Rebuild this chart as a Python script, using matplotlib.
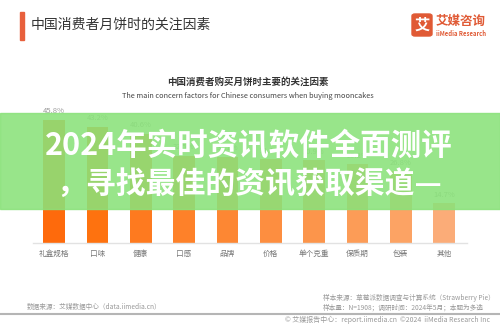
import matplotlib.pyplot as plt
from matplotlib.patches import Rectangle, FancyBboxPatch

plt.rcParams['font.family'] = ['Noto Sans CJK SC', 'DejaVu Sans']

categories = ['礼盒规格', '口味', '健康', '口感', '品牌', '价格', '单个克重', '保质期', '包装', '其他']
values = [45.8, 43.2, 40.6, 32.5, 32.1, 31.1, 30.9, 29.2, 26.8, 14.7]
colors = ['#fe6a0c', '#fe720f', '#fe7a1f', '#fe8129', '#fd8733',
          '#fd8e40', '#fc954b', '#fc9c57', '#fca364', '#fbac78']

W, H = 500, 325
fig = plt.figure(figsize=(5, 3.25), dpi=100)
fig.patch.set_facecolor('white')


def fx(px):
    return px / W


def fy(py):
    return 1 - py / H


# bar chart
ax = fig.add_axes([fx(33), fy(243), fx(467 - 33), 134.5 / H])
x = list(range(len(categories)))
ax.bar(x, values, width=0.5, color=colors, zorder=2)
for xi, v in zip(x, values):
    ax.text(xi, v + 1.6, f'{v}%', ha='center', va='bottom', fontsize=5.5, color='#9a9a9a')
ax.set_xlim(-0.485, 9.53)
ax.set_ylim(0, 50)
ax.set_yticks([])
ax.set_xticks(x)
ax.set_xticklabels(categories, fontsize=5.5, color='#777777')
ax.tick_params(axis='x', length=0, pad=5)
for s in ['top', 'right', 'left']:
    ax.spines[s].set_visible(False)
ax.spines['bottom'].set_color('#e2e2e2')
ax.spines['bottom'].set_linewidth(1)
ax.set_facecolor('none')

# header
fig.patches.append(Rectangle((fx(20), fy(40)), fx(4), (40 - 12) / H,
                             transform=fig.transFigure, color='#e8603c', zorder=3))
fig.text(fx(31), fy(25), '中国消费者月饼时的关注因素', fontsize=10, color='#333333',
         va='center', ha='left')
fig.patches.append(FancyBboxPatch((fx(412), fy(36)), fx(20), 22 / H,
                                  boxstyle='round,pad=0,rounding_size=0.006',
                                  transform=fig.transFigure, color='#e05a35', zorder=3))
fig.text(fx(422), fy(25), '艾', fontsize=11, color='white', fontweight='bold',
         ha='center', va='center')
fig.text(fx(436), fy(21), '艾媒咨询', fontsize=9, color='#e05a35', fontweight='bold',
         ha='left', va='center')
fig.text(fx(436), fy(33), 'iiMedia Research', fontsize=4.3, color='#e05a35',
         fontweight='bold', ha='left', va='center')

# chart titles
fig.text(fx(248), fy(82), '中国消费者购买月饼时主要的关注因素', fontsize=6.8,
         color='#333333', fontweight='bold', ha='center', va='center')
fig.text(fx(248), fy(96), 'The main concern factors for Chinese consumers when buying mooncakes',
         fontsize=5.3, color='#444444', ha='center', va='center')

# footer
fig.text(fx(27), fy(307), '数据来源：艾媒数据中心（data.iimedia.cn）', fontsize=4.8,
         color='#999999', ha='left', va='center')
fig.text(fx(323), fy(298), '样本来源：草莓派数据调查与计算系统（Strawberry Pie）', fontsize=4.8,
         color='#999999', ha='left', va='center')
fig.text(fx(323), fy(308), '样本量：N=1908；调研时间：2024年5月；本题为多选', fontsize=4.8,
         color='#999999', ha='left', va='center')
fig.lines.append(plt.Line2D([0, 1], [fy(314), fy(314)], transform=fig.transFigure,
                            color='#b5b5b5', lw=1.5))
fig.text(fx(285), fy(320), '© 艾媒报告中心：report.iimedia.cn', fontsize=5,
         color='#999999', ha='left', va='center')
fig.text(fx(490), fy(320), '©2024  iiMedia Research Inc', fontsize=5,
         color='#999999', ha='right', va='center')

# green overlay banner
fig.patches.append(Rectangle((0, fy(209)), 1, (209 - 113) / H, transform=fig.transFigure,
                             color='#8ae27a', alpha=0.88, zorder=5))
fig.text(fx(249), fy(146), '2024年实时资讯软件全面测评', fontsize=22, color='white',
         fontweight='bold', ha='center', va='center', zorder=6)
fig.text(fx(249), fy(184), '，寻找最佳的资讯获取渠道—', fontsize=21.5, color='white',
         fontweight='bold', ha='center', va='center', zorder=6)

fig.savefig('out.png', dpi=100)
